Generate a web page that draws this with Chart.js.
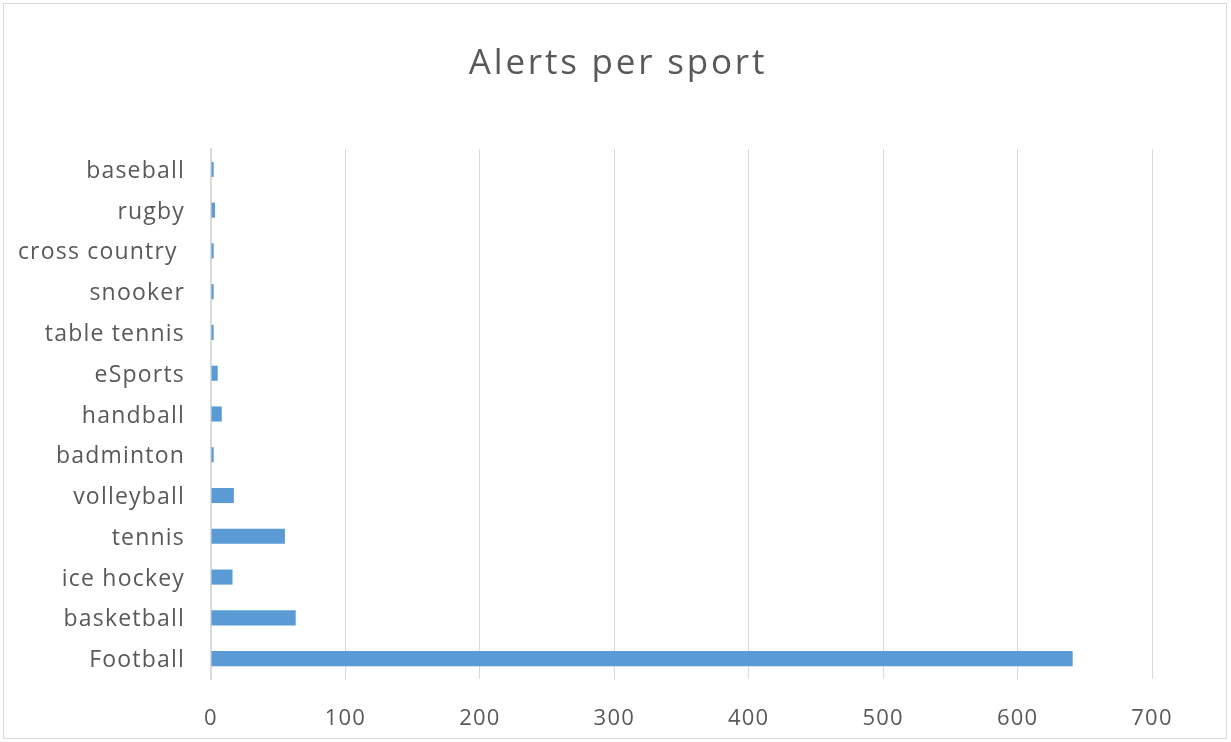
<!DOCTYPE html>
<html>
<head>
<meta charset="utf-8">
<script src="https://cdn.jsdelivr.net/npm/chart.js@4"></script>
<style>
  body { margin: 0; background: #fff; }
  #wrap { position: absolute; left: 0; top: 0; width: 1231px; height: 742px; }
  #frame { position: absolute; left: 3px; top: 3px; width: 1224px; height: 736px; border: 1px solid #d9d9d9; box-sizing: border-box; pointer-events: none; }
</style>
</head>
<body>
<div id="wrap">
  <canvas id="myChart" width="1231" height="742"></canvas>
  <div id="frame"></div>
</div>
<script>
const chartTitle = 'Alerts per sport';
const sports = ['baseball', 'rugby', 'cross country ', 'snooker', 'table tennis', 'eSports',
  'handball', 'badminton', 'volleyball', 'tennis', 'ice hockey', 'basketball', 'Football'];
const alerts = [2, 3, 2, 2, 2, 5, 8, 2, 17, 55, 16, 63, 641];
const xTicks = [0, 100, 200, 300, 400, 500, 600, 700];

const textColor = '#595959';
const fontFamily = '"Open Sans", Lato, sans-serif';

// wider letter spacing like the original, title drawn centred on the whole frame
const titlePlugin = {
  id: 'centerTitle',
  beforeDraw: (chart) => {
    chart.ctx.letterSpacing = '1.2px';
  },
  afterDraw: (chart) => {
    const c = chart.ctx;
    c.save();
    c.letterSpacing = '2.8px';
    c.fillStyle = textColor;
    c.font = '35px ' + fontFamily;
    c.textAlign = 'center';
    c.textBaseline = 'middle';
    c.fillText(chartTitle, 618, 64);
    c.restore();
    c.letterSpacing = '0px';
  }
};

const ctx = document.getElementById('myChart');
const chart = new Chart(ctx, {
  type: 'bar',
  data: {
    labels: sports,
    datasets: [
      {
        label: 'Alerts',
        data: alerts,
        backgroundColor: '#5b9bd5',
        borderWidth: 0,
        barPercentage: 0.37,
        categoryPercentage: 1
      }
    ]
  },
  options: {
    indexAxis: 'y',
    responsive: false,
    animation: false,
    layout: { padding: { top: 149, left: 10, right: 79, bottom: 0 } },
    plugins: {
      legend: { display: false },
      tooltip: { enabled: false },
      title: { display: false }
    },
    scales: {
      x: {
        min: xTicks[0],
        max: xTicks[xTicks.length - 1],
        afterBuildTicks: (axis) => { axis.ticks = xTicks.map((v) => ({ value: v })); },
        afterFit: (axis) => { axis.height = 63; },
        grid: { color: '#d9d9d9', drawTicks: false },
        border: { display: false },
        ticks: { color: textColor, padding: 27, font: { family: fontFamily, size: 22 } }
      },
      y: {
        afterFit: (axis) => { axis.width = 201; },
        grid: { display: false, drawTicks: false },
        border: { color: '#d9d9d9', width: 2 },
        ticks: { color: textColor, padding: 26, labelOffset: 2, font: { family: fontFamily, size: 23 } }
      }
    }
  },
  plugins: [titlePlugin]
});
</script>
</body>
</html>
